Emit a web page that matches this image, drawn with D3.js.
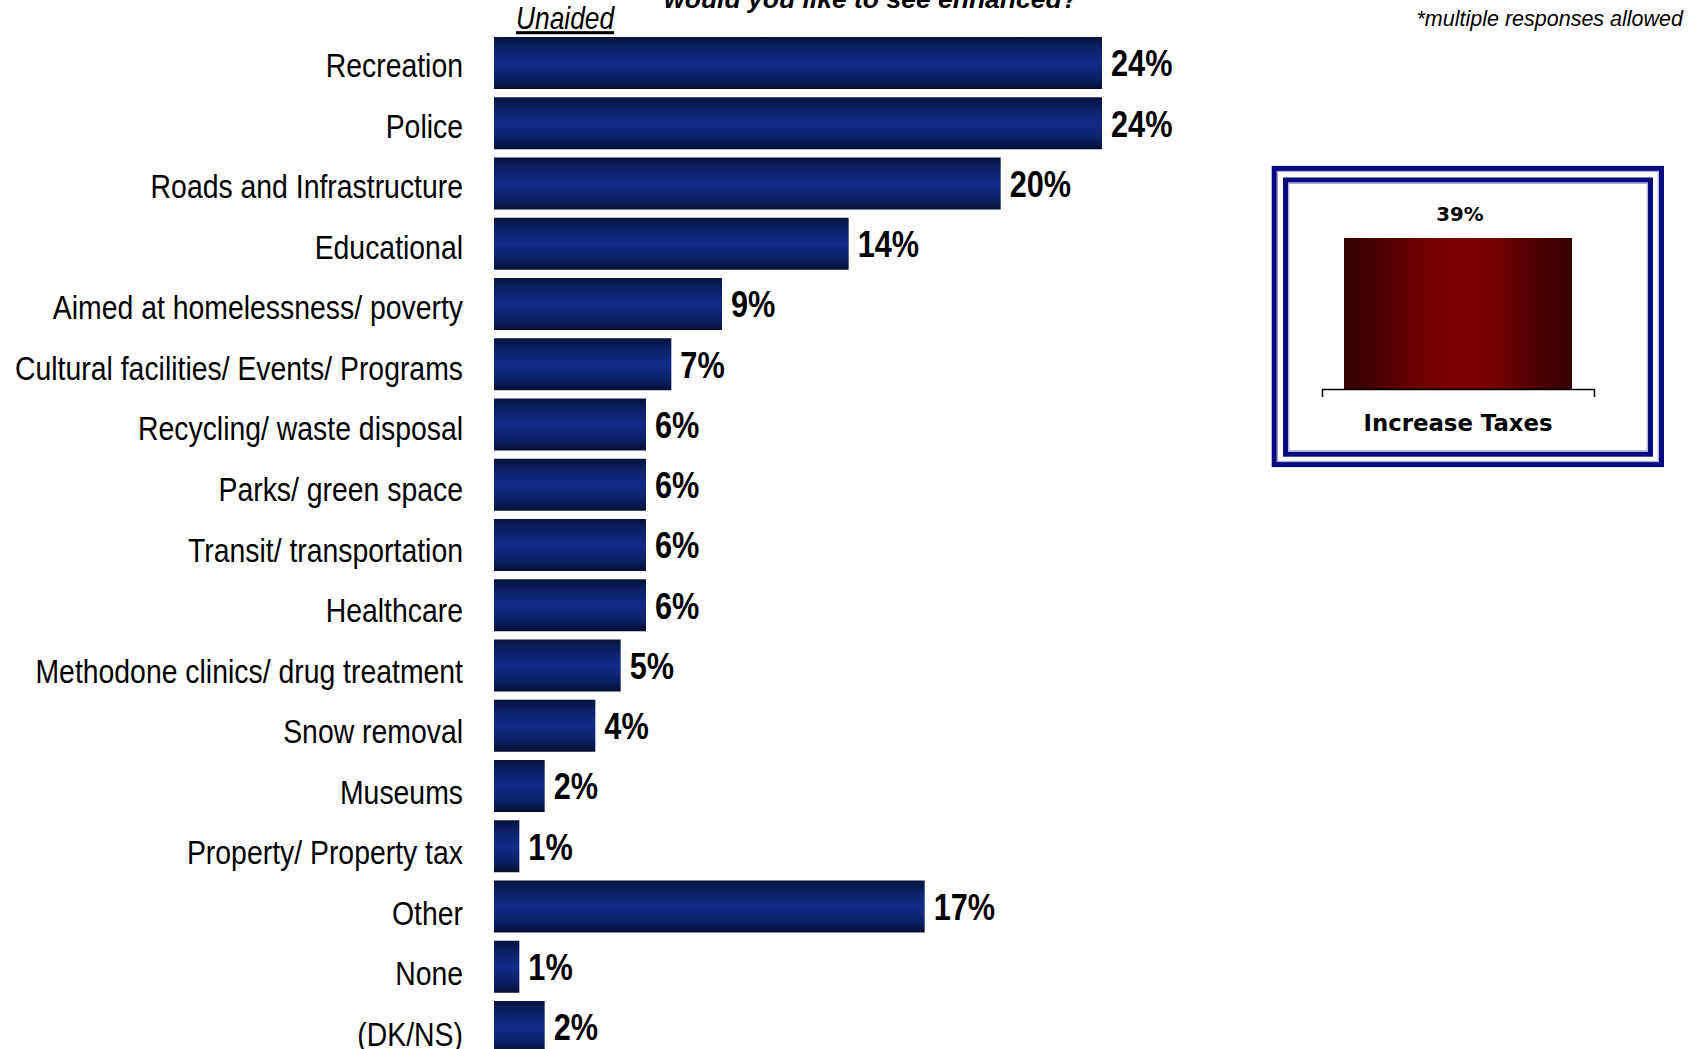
<!DOCTYPE html>
<html>
<head>
<meta charset="utf-8">
<script src="https://cdn.jsdelivr.net/npm/d3@7"></script>
<style>
  html, body { margin: 0; padding: 0; background: #ffffff; }
  svg { display: block; }
</style>
</head>
<body>
<script>
// ---- data ----
const categories = [
  "Recreation", "Police", "Roads and Infrastructure", "Educational",
  "Aimed at homelessness/ poverty", "Cultural facilities/ Events/ Programs",
  "Recycling/ waste disposal", "Parks/ green space", "Transit/ transportation",
  "Healthcare", "Methodone clinics/ drug treatment", "Snow removal", "Museums",
  "Property/ Property tax", "Other", "None", "(DK/NS)"
];
const values = [24, 24, 20, 14, 9, 7, 6, 6, 6, 6, 5, 4, 2, 1, 17, 1, 2];

const insetCategories = ["Increase Taxes"];
const insetValues = [39];

const titleText = "would you like to see enhanced?";
const subLabel = "Unaided";
const noteText = "*multiple responses allowed";

// ---- layout ----
const W = 1701, H = 1049;
const NARROW = 0.835;
const svg = d3.select("body").append("svg").attr("width", W).attr("height", H);
const defs = svg.append("defs");

const blueGrad = defs.append("linearGradient").attr("id", "blueGrad")
  .attr("x1", 0).attr("y1", 0).attr("x2", 0).attr("y2", 1);
[[0, "#06123c"], [0.2, "#0c1f66"], [0.5, "#122b88"], [0.8, "#0c1f66"], [1, "#050e32"]]
  .forEach(([o, c]) => blueGrad.append("stop").attr("offset", o).attr("stop-color", c));

const redGrad = defs.append("linearGradient").attr("id", "redGrad")
  .attr("x1", 0).attr("y1", 0).attr("x2", 1).attr("y2", 0);
[[0, "#360000"], [0.1, "#400000"], [0.35, "#700000"], [0.5, "#7c0000"], [0.65, "#760000"], [0.9, "#420000"], [1, "#360000"]]
  .forEach(([o, c]) => redGrad.append("stop").attr("offset", o).attr("stop-color", c));

// main scales
const x = d3.scaleLinear().domain([0, 24]).range([494, 1102]);
const step = 60.25, pi = 0.137, po = pi / 2;
const y0 = 37 - po * step;
const y = d3.scaleBand().domain(categories)
  .range([y0, y0 + categories.length * step])
  .paddingInner(pi).paddingOuter(po);

const data = categories.map((c, i) => ({ c, v: values[i], i }));

// bars
svg.append("g").selectAll("rect").data(data).join("rect")
  .attr("x", x(0))
  .attr("y", d => y(d.c))
  .attr("width", d => x(d.v) - x(0))
  .attr("height", y.bandwidth())
  .attr("fill", "url(#blueGrad)");

// value labels (narrow bold)
svg.append("g").selectAll("text").data(data).join("text")
  .attr("transform", d => `translate(${x(d.v) + 9},${y(d.c) + y.bandwidth() / 2 + 13.3}) scale(0.83,1)`)
  .attr("font-family", "'Liberation Sans', Arial, sans-serif")
  .attr("font-weight", "bold")
  .attr("font-size", 37)
  .attr("fill", "#000")
  .text(d => d.v + "%");

// category labels (narrow)
svg.append("g").selectAll("text").data(data).join("text")
  .attr("transform", d => `translate(463,${y(d.c) + y.bandwidth() / 2 + 12.2 + 2 + 0.3 * d.i}) scale(${NARROW},1)`)
  .attr("text-anchor", "end")
  .attr("font-family", "'Liberation Sans', Arial, sans-serif")
  .attr("font-size", 34)
  .attr("fill", "#000")
  .text(d => d.c);

// title (partially cut at top, as in the source)
svg.append("text")
  .attr("x", 871).attr("y", 8)
  .attr("text-anchor", "middle")
  .attr("font-family", "'Liberation Sans', Arial, sans-serif")
  .attr("font-weight", "bold").attr("font-style", "italic")
  .attr("font-size", 26.5)
  .text(titleText);

// Unaided
svg.append("text")
  .attr("transform", `translate(516,29) scale(0.85,1)`)
  .attr("font-family", "'Liberation Sans', Arial, sans-serif")
  .attr("font-style", "italic")
  .attr("font-size", 31)
  .attr("text-decoration", "underline")
  .text(subLabel);

// note
svg.append("text")
  .attr("x", 1683).attr("y", 26)
  .attr("text-anchor", "end")
  .attr("font-family", "'Liberation Sans', Arial, sans-serif")
  .attr("font-style", "italic")
  .attr("font-size", 21.5)
  .text(noteText);

// ---- inset ----
const inset = svg.append("g");
const navy = "#0a0a80";
inset.append("rect").attr("x", 1274.2).attr("y", 168.4).attr("width", 387.3).attr("height", 296.2)
  .attr("fill", "#fff").attr("stroke", navy).attr("stroke-width", 5);
inset.append("rect").attr("x", 1277.5).attr("y", 171.6).attr("width", 380.7).attr("height", 289.8)
  .attr("fill", "none").attr("stroke", "#9a9ad0").attr("stroke-width", 1);
inset.append("rect").attr("x", 1285.5).attr("y", 180).attr("width", 365).attr("height", 274.2)
  .attr("fill", "none").attr("stroke", navy).attr("stroke-width", 5);
inset.append("rect").attr("x", 1288.8).attr("y", 183.3).attr("width", 358.4).attr("height", 267.6)
  .attr("fill", "none").attr("stroke", "#9a9ad0").attr("stroke-width", 1);

const ix = d3.scaleBand().domain(insetCategories).range([1322, 1594])
  .paddingInner(0).paddingOuter(22 / 228);
const iy = d3.scaleLinear().domain([0, 39]).range([389, 238]);
const idata = insetCategories.map((c, i) => ({ c, v: insetValues[i] }));

inset.selectAll("rect.ibar").data(idata).join("rect").attr("class", "ibar")
  .attr("x", d => ix(d.c)).attr("y", d => iy(d.v))
  .attr("width", ix.bandwidth()).attr("height", d => iy(0) - iy(d.v))
  .attr("fill", "url(#redGrad)");

inset.selectAll("text.ival").data(idata).join("text").attr("class", "ival")
  .attr("x", d => ix(d.c) + ix.bandwidth() / 2 + 2)
  .attr("y", d => iy(d.v) - 17)
  .attr("text-anchor", "middle")
  .attr("font-family", "'DejaVu Sans', Verdana, sans-serif")
  .attr("font-weight", "bold").attr("font-size", 19.8)
  .text(d => d.v + "%");

const iaxis = inset.append("g").attr("transform", `translate(0,${iy(0)})`)
  .call(d3.axisBottom(ix).tickSize(0).tickSizeOuter(8).tickPadding(26));
iaxis.select(".domain").attr("stroke", "#000").attr("stroke-width", 1.5);
iaxis.selectAll(".tick text")
  .attr("font-family", "'DejaVu Sans', Verdana, sans-serif")
  .attr("font-weight", "bold").attr("font-size", 22.8).attr("fill", "#000");
</script>
</body>
</html>
